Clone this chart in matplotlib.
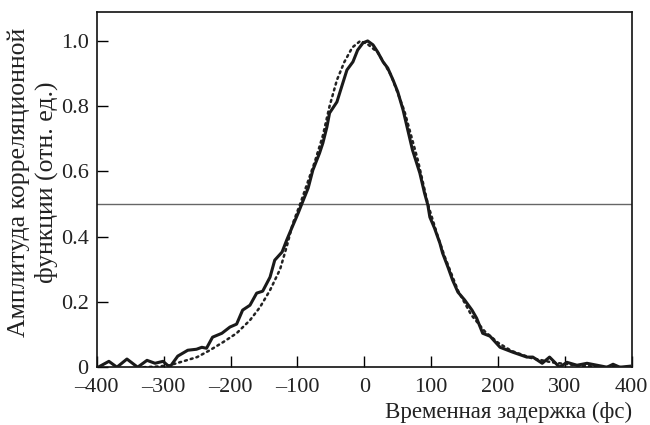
import matplotlib
matplotlib.use('Agg')
import matplotlib.pyplot as plt
from matplotlib.ticker import FuncFormatter

t_meas = [-398, -382, -370, -355, -339, -325, -313, -301, -291, -279, -264, -251,
          -243, -236, -227, -213, -201, -191, -182, -171, -161, -152, -141, -134,
          -123, -116, -108, -99, -93, -84, -77, -67, -62, -56, -52, -41, -34, -26,
          -17, -10, -2, 5, 13, 20, 28, 35, 43, 50, 58, 65, 72, 83, 90, 95, 98, 105,
          113, 117, 125, 132, 140, 150, 161, 168, 177, 188, 203, 222, 243, 252, 266,
          277, 292, 303, 318, 333, 348, 363, 372, 382, 397]
a_meas = [0.0, 0.018, 0.0, 0.025, 0.0, 0.021, 0.012, 0.018, 0.0, 0.034, 0.052, 0.055,
          0.061, 0.058, 0.092, 0.104, 0.123, 0.132, 0.175, 0.190, 0.227, 0.233, 0.276, 0.328,
          0.353, 0.390, 0.429, 0.472, 0.503, 0.549, 0.604, 0.656, 0.687, 0.736, 0.779, 0.813,
          0.859, 0.911, 0.936, 0.972, 0.994, 1.0, 0.988, 0.966, 0.936, 0.917, 0.880, 0.844,
          0.788, 0.727, 0.666, 0.595, 0.534, 0.497, 0.460, 0.426, 0.380, 0.350, 0.307, 0.267,
          0.230, 0.206, 0.175, 0.150, 0.104, 0.095, 0.061, 0.046, 0.031, 0.031, 0.012,
          0.031, 0.0, 0.015, 0.006, 0.012, 0.006, 0.0, 0.009, 0.0, 0.003]

# fit curve (dotted)
t_fit = [-330, -310, -291, -271, -250, -231, -211, -191, -171, -156, -141, -126, -116,
         -107, -96, -85, -74, -62, -52, -41, -30, -18, -6, 5, 20, 40, 60, 80, 95, 110,
         120, 140, 160, 180, 200, 220, 250, 280, 320, 360, 398]
a_fit = [0.0, 0.002, 0.006, 0.018, 0.031, 0.052, 0.077, 0.104, 0.144, 0.184, 0.236, 0.30,
         0.37, 0.44, 0.50, 0.565, 0.63, 0.71, 0.80, 0.88, 0.935, 0.98, 1.0, 0.99, 0.965,
         0.895, 0.785, 0.635, 0.50, 0.40, 0.34, 0.235, 0.16, 0.11, 0.075, 0.05, 0.028,
         0.015, 0.005, 0.001, 0.0]

half_level = 0.5

plt.rcParams['font.family'] = ['Liberation Serif', 'DejaVu Serif']
txt = '#222222'

fig = plt.figure(figsize=(6.5, 4.25), dpi=100)
ax = fig.add_axes([0.149, 0.136, 0.823, 0.836])

ax.axhline(half_level, color='#666666', lw=1.0, zorder=1)
ax.plot(t_fit, a_fit, color='#222222', lw=1.8, linestyle=(0, (0.8, 1.6)),
        dash_capstyle='round', zorder=2)
ax.plot(t_meas, a_meas, color='#1a1a1a', lw=2.2, zorder=3)

ax.set_xlim(-400, 400)
ax.set_ylim(0, 1.089)
ax.set_xticks(range(-400, 401, 100))
ax.set_yticks([0, 0.2, 0.4, 0.6, 0.8, 1.0])
ax.yaxis.set_major_formatter(FuncFormatter(lambda v, p: '0' if v == 0 else '%.1f' % v))
ax.xaxis.set_major_formatter(FuncFormatter(lambda v, p: ('\u2013%d' % -v) if v < 0 else '%d' % v))
ax.tick_params(direction='in', length=8, width=1.0, labelsize=16, labelcolor=txt,
               top=False, right=False)
ax.tick_params(axis='x', pad=7.5)
ax.tick_params(axis='y', pad=6)
for s in ax.spines.values():
    s.set_linewidth(1.2)
    s.set_color('#111111')

ax.set_ylabel('Амплитуда корреляционной\nфункции (отн. ед.)', fontsize=18.5,
              color=txt, linespacing=1.3, ha='center')
ax.yaxis.set_label_coords(-0.072, 0.52)
ax.set_xlabel('Временная задержка (фс)', fontsize=16.5, color=txt, ha='right')
ax.xaxis.set_label_coords(1.0, -0.097)
ax.xaxis.label.set_va('top')

fig.savefig('out.png', dpi=100)
